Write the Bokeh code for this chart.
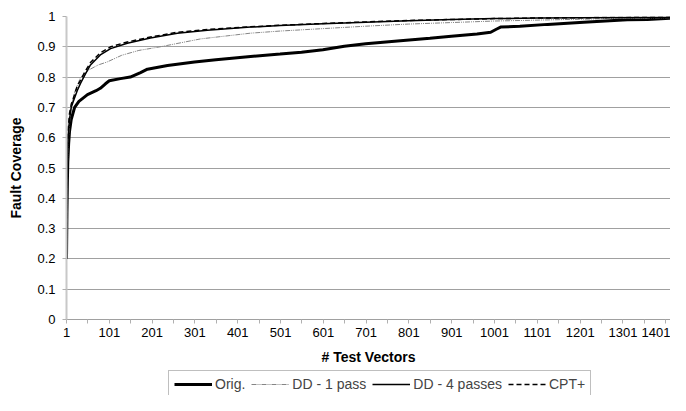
from bokeh.plotting import figure
from bokeh.layouts import column
from bokeh.models import Range1d, FixedTicker, CustomJSTickFormatter, Legend, LegendItem
from bokeh.embed import file_html
from bokeh.resources import INLINE

# ---- data ----
orig_x = [1, 2, 3, 4, 6, 8, 12, 20, 30, 50, 70, 80, 92, 101, 127, 150, 174, 190, 237, 300,
          350, 431, 500, 550, 600, 650, 700, 781, 850, 900, 960, 992, 1005, 1015, 1060,
          1125, 1209, 1260, 1311, 1358, 1400, 1452]
orig_y = [0.20, 0.35, 0.45, 0.52, 0.58, 0.62, 0.66, 0.70, 0.72, 0.742, 0.755, 0.763, 0.778,
          0.788, 0.795, 0.80, 0.815, 0.826, 0.838, 0.850, 0.857, 0.868, 0.876, 0.882,
          0.890, 0.902, 0.910, 0.920, 0.928, 0.935, 0.942, 0.948, 0.958, 0.965, 0.968,
          0.974, 0.981, 0.985, 0.989, 0.990, 0.993, 0.998]

dd1_x = [1, 2, 3, 5, 8, 12, 20, 34, 55, 75, 96, 130, 170, 220, 314, 431, 500, 600, 700,
         800, 900, 1000, 1100, 1200, 1300, 1452]
dd1_y = [0.22, 0.40, 0.50, 0.59, 0.65, 0.70, 0.75, 0.80, 0.825, 0.840, 0.850, 0.872, 0.888,
         0.900, 0.926, 0.945, 0.952, 0.960, 0.968, 0.975, 0.980, 0.985, 0.988, 0.991,
         0.994, 0.997]

dd4_x = [1, 2, 3, 5, 8, 12, 17, 26, 34, 45, 57, 80, 104, 143, 197, 260, 330, 431, 500,
         600, 700, 800, 900, 1000, 1100, 1200, 1300, 1452]
dd4_y = [0.25, 0.42, 0.52, 0.61, 0.66, 0.70, 0.72, 0.755, 0.78, 0.81, 0.84, 0.873, 0.894,
         0.912, 0.929, 0.945, 0.955, 0.965, 0.970, 0.976, 0.981, 0.986, 0.990, 0.993,
         0.995, 0.996, 0.997, 0.998]

cpt_x = [1, 2, 3, 5, 8, 12, 17, 26, 34, 45, 57, 80, 104, 143, 197, 260, 330, 431, 500,
         600, 700, 800, 900, 1000, 1100, 1200, 1300, 1452]
cpt_y = [0.28, 0.45, 0.55, 0.63, 0.68, 0.71, 0.73, 0.77, 0.79, 0.82, 0.848, 0.880, 0.900,
         0.916, 0.932, 0.948, 0.957, 0.966, 0.971, 0.977, 0.982, 0.987, 0.990, 0.993,
         0.995, 0.996, 0.997, 0.998]

x_ticks = [1, 101, 201, 301, 401, 501, 601, 701, 801, 901, 1001, 1101, 1201, 1301, 1401]
x_minor = [51, 151, 251, 351, 451, 551, 651, 751, 851, 951, 1051, 1151, 1251, 1351]
y_ticks = [0, 0.1, 0.2, 0.3, 0.4, 0.5, 0.6, 0.7, 0.8, 0.9, 1.0]

series_names = ["Orig.", "DD - 1 pass", "DD - 4 passes", "CPT+"]

FONT = "Liberation Sans"

# line styles: (color, width, dash)
styles = [("black", 3, "solid"),
          ("#858585", 1, "5 1 1 1 1 1"),
          ("black", 1.5, "solid"),
          ("black", 1.5, "5 3")]

p = figure(width=670, height=369, output_backend="svg", toolbar_location=None,
           x_range=Range1d(1, 1412), y_range=Range1d(0, 1),
           min_border_left=66, min_border_top=16, min_border_right=0, min_border_bottom=50)
p.outline_line_color = None
p.background_fill_color = "white"
p.border_fill_color = "white"

p.xgrid.grid_line_color = None
p.ygrid.ticker = FixedTicker(ticks=y_ticks)
p.ygrid.grid_line_color = "#a0a0a0"
p.ygrid.grid_line_width = 1

p.xaxis.ticker = FixedTicker(ticks=x_ticks, minor_ticks=x_minor)
p.yaxis.ticker = FixedTicker(ticks=y_ticks)
p.yaxis.formatter = CustomJSTickFormatter(code="return (Math.round(tick*10)/10).toString();")

for ax in (p.xaxis[0], p.yaxis[0]):
    ax.major_label_text_font = FONT
    ax.major_label_text_font_size = "13px"
    ax.major_label_text_color = "black"
    ax.axis_label_text_font = FONT
    ax.axis_label_text_font_size = "14px"
    ax.axis_label_text_font_style = "bold"
    ax.axis_label_text_color = "black"
    ax.major_tick_in = 0
    ax.major_tick_out = 4
    ax.minor_tick_in = 0

p.xaxis.axis_label = "# Test Vectors"
p.yaxis.axis_label = "Fault Coverage"

p.xaxis.axis_line_color = "#a0a0a0"
p.xaxis.major_tick_line_color = "#b0b0b0"
p.xaxis.minor_tick_line_color = "#b0b0b0"
p.xaxis.minor_tick_out = 4
p.xaxis.major_label_standoff = 4
p.xaxis.axis_label_standoff = 9

p.yaxis.axis_line_color = "#c8c8c8"
p.yaxis.axis_line_width = 2
p.yaxis.major_tick_line_color = "#b0b0b0"
p.yaxis.minor_tick_line_color = None
p.yaxis.major_label_standoff = 7
p.yaxis.axis_label_standoff = 10

series = [(orig_x, orig_y), (dd1_x, dd1_y), (dd4_x, dd4_y), (cpt_x, cpt_y)]
for (xs, ys), (c, w, d) in zip(series, styles):
    p.line(xs, ys, line_color=c, line_width=w, line_dash=d)

# legend strip below the chart (renderers hold no visible data; they only supply legend swatches)
lg = figure(width=670, height=26, output_backend="svg", toolbar_location=None,
            x_range=Range1d(0, 1), y_range=Range1d(0, 1),
            min_border_left=0, min_border_right=0, min_border_top=0, min_border_bottom=0)
lg.axis.visible = False
lg.grid.visible = False
lg.outline_line_color = None
lg.border_fill_color = "white"
nan = float("nan")
lg_renderers = [lg.line([nan], [nan], line_color=c, line_width=w, line_dash=d) for (c, w, d) in styles]

legend = Legend(items=[LegendItem(label=n, renderers=[r]) for n, r in zip(series_names, lg_renderers)],
                orientation="horizontal", location=(102, -3),
                label_text_font=FONT, label_text_font_size="14px",
                glyph_width=38, glyph_height=16, label_standoff=3, spacing=6,
                padding=5, margin=0, border_line_color="#808080", border_line_width=1,
                background_fill_color="white", background_fill_alpha=1.0)
lg.add_layout(legend)

layout = column(p, lg, spacing=0)
open("out.html", "w").write(file_html(layout, INLINE))
